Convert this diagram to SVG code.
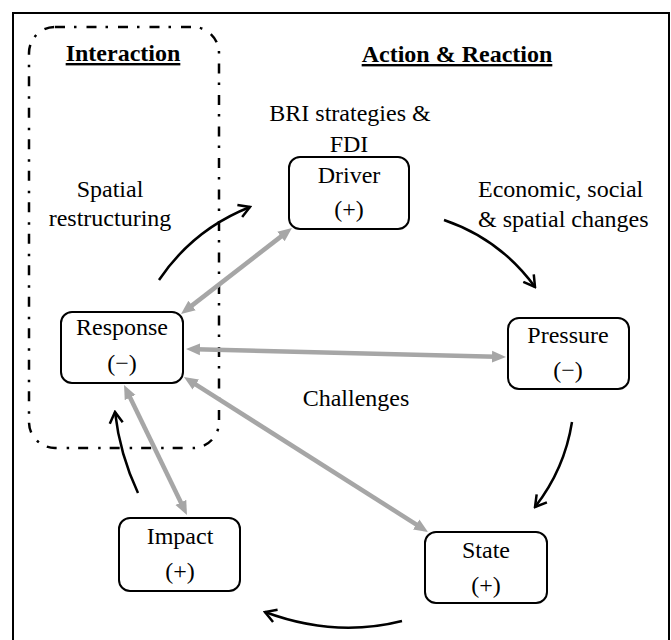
<svg xmlns="http://www.w3.org/2000/svg" width="671" height="640" viewBox="0 0 671 640">
<style>
text{font-family:"Liberation Serif","Times New Roman","DejaVu Serif",serif;font-size:24px;fill:#000;}
.c{text-anchor:middle;}
.h{font-weight:bold;text-decoration:underline;}
.box{fill:#fff;stroke:#000;stroke-width:2;}
.g{stroke:#a6a6a6;stroke-width:4.5;fill:none;marker-start:url(#ga);marker-end:url(#ga);}
.k{stroke:#000;stroke-width:2.5;fill:none;marker-end:url(#ka);}
</style>
<defs>
<marker id="ga" viewBox="0 0 14 14" refX="4" refY="7" markerWidth="14" markerHeight="14" markerUnits="userSpaceOnUse" orient="auto-start-reverse">
<path d="M0,1 L14,7 L0,13 z" fill="#a6a6a6"/>
</marker>
<marker id="ka" viewBox="0 0 14 16" refX="12" refY="8" markerWidth="14" markerHeight="16" markerUnits="userSpaceOnUse" orient="auto">
<path d="M1,1.5 L12,8 L1,14.5" fill="none" stroke="#000" stroke-width="2.5"/>
</marker>
</defs>
<rect x="13" y="13" width="656" height="700" fill="#fff" stroke="#000" stroke-width="2"/>
<g font-family="Liberation Serif, Times New Roman, serif">
<g id="interaction-zone">
<rect x="29" y="27" width="190" height="421" rx="26" ry="26" fill="none" stroke="#000" stroke-width="2.5" stroke-dasharray="10 9 2.5 10"/>
<text class="c h" x="123" y="61">Interaction</text>
</g>
<text class="c h" x="457" y="62">Action &amp; Reaction</text>
<g id="labels">
<text class="c" x="350" y="121">BRI strategies &amp;</text>
<text class="c" x="349" y="152">FDI</text>
<text class="c" x="110" y="197">Spatial</text>
<text class="c" x="110" y="226">restructuring</text>
<text x="478" y="197">Economic, social</text>
<text x="478" y="227">&amp; spatial changes</text>
<text class="c" x="356" y="406">Challenges</text>
</g>
<g id="connectors">
<line class="g" x1="188.9" y1="307.9" x2="284.1" y2="234.1"/>
<line class="g" x1="196" y1="349.25" x2="496" y2="356.75"/>
<line class="g" x1="192.4" y1="382.4" x2="419.6" y2="526.6"/>
<line class="g" x1="128.4" y1="394" x2="182.6" y2="506"/>
<path class="k" d="M159,280 Q193,229.5 250,207"/>
<path class="k" d="M444,220 Q500,239 535,287"/>
<path class="k" d="M572,422 Q564.5,469.3 535,507"/>
<path class="k" d="M402,621 Q335,638 265,612"/>
<path class="k" d="M138,493 Q119.8,454.4 115,412"/>
</g>
<g id="driver">
<rect class="box" x="289" y="157" width="120" height="72" rx="11"/>
<text class="c" x="349" y="183">Driver</text>
<text class="c" x="349" y="217">(+)</text>
</g>
<g id="pressure">
<rect class="box" x="508" y="318" width="121" height="71" rx="11"/>
<text class="c" x="568" y="343">Pressure</text>
<text class="c" x="568" y="378">(−)</text>
</g>
<g id="state">
<rect class="box" x="425" y="532" width="122" height="71" rx="11"/>
<text class="c" x="486" y="558">State</text>
<text class="c" x="486" y="593">(+)</text>
</g>
<g id="impact">
<rect class="box" x="119" y="518" width="121" height="73" rx="11"/>
<text class="c" x="180" y="544">Impact</text>
<text class="c" x="180" y="579">(+)</text>
</g>
<g id="response">
<rect class="box" x="61" y="312" width="122" height="71" rx="11"/>
<text class="c" x="122" y="335">Response</text>
<text class="c" x="122" y="371">(−)</text>
</g>
</g>
</svg>
